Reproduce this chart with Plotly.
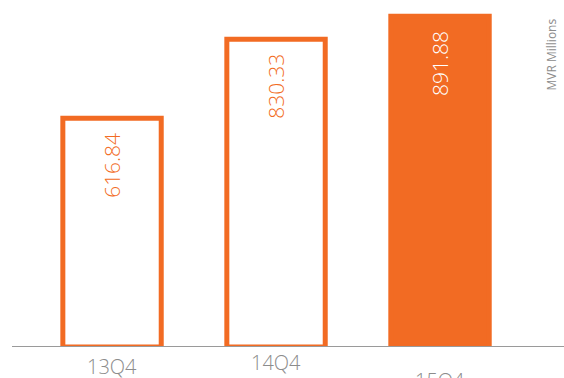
import plotly.graph_objects as go

categories = ["13Q4", "14Q4", "15Q4"]
values = [616.84, 830.33, 891.88]
value_labels = ["616.84", "830.33", "891.88"]
unit_label = "MVR Millions"

ORANGE = "#F26B23"
GRAY = "#8C8C8C"

fill_colors = ["white", "white", ORANGE]
text_colors = [ORANGE, ORANGE, "white"]
tick_shifts = [-19, -15, -33]

fig = go.Figure()
fig.add_trace(go.Bar(
    x=categories,
    y=values,
    width=0.6,
    marker=dict(color=fill_colors, line=dict(color=ORANGE, width=5)),
    hoverinfo="skip",
))

annotations = []
for c, v, t, tc in zip(categories, values, value_labels, text_colors):
    annotations.append(dict(
        x=c, y=v, xref="x", yref="y", text=t, showarrow=False,
        textangle=-90, xanchor="center", yanchor="top", yshift=-13,
        font=dict(family="Open Sans", size=21, color=tc, weight=300),
    ))
for c, s in zip(categories, tick_shifts):
    annotations.append(dict(
        x=c, y=0, xref="x", yref="y", text=c, showarrow=False,
        xanchor="center", yanchor="middle", yshift=s,
        font=dict(family="Open Sans", size=20, color=GRAY, weight=300),
    ))
annotations.append(dict(
    x=1, y=1, xref="paper", yref="paper", text=unit_label, showarrow=False,
    textangle=-90, xanchor="right", yanchor="top", xshift=-3, yshift=-17,
    font=dict(family="Open Sans", size=12, color=GRAY),
))

fig.update_layout(
    width=564, height=378,
    margin=dict(l=12, r=0, t=0, b=31),
    paper_bgcolor="white", plot_bgcolor="white",
    showlegend=False,
    annotations=annotations,
    xaxis=dict(range=[-0.61, 2.756], showticklabels=False, ticks="",
               showgrid=False, zeroline=False, showline=False),
    yaxis=dict(range=[0, 936], visible=False, showgrid=False, zeroline=False),
    shapes=[dict(type="line", xref="paper", yref="y", x0=0, x1=1, y0=0, y1=0,
                 line=dict(color="#9A9A9A", width=2), layer="above")],
)

fig.write_html("out.html")
